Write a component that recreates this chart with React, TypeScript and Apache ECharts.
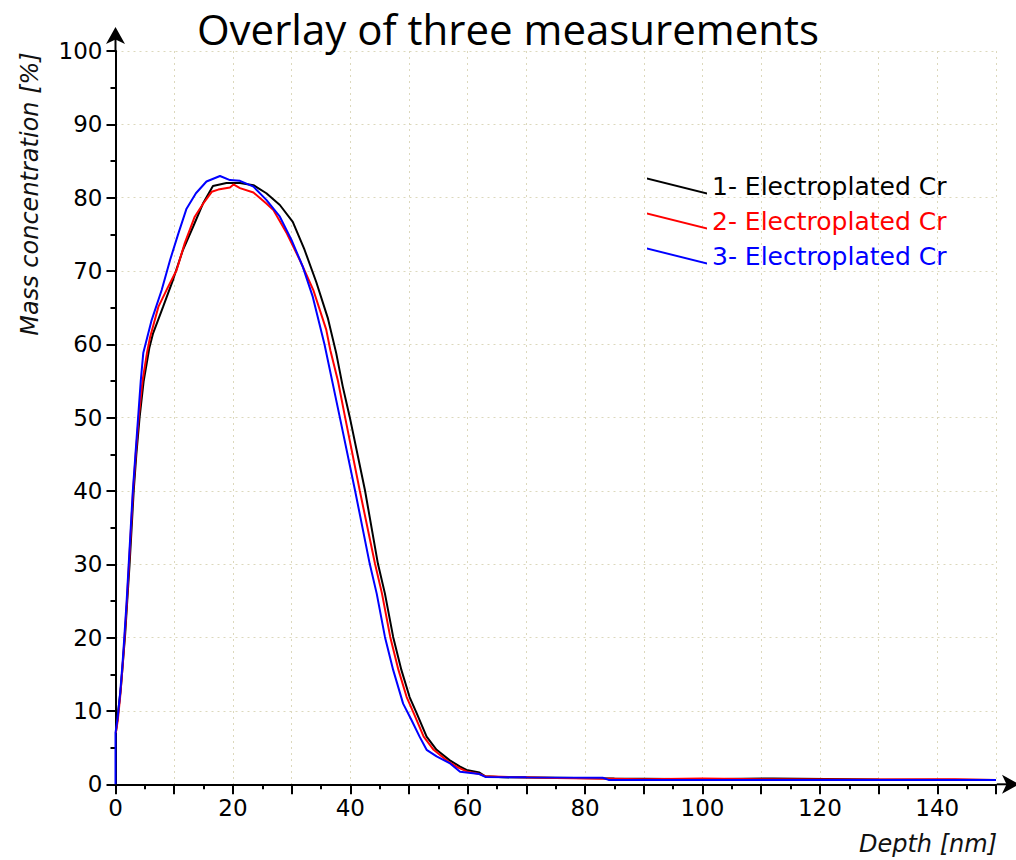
import React, { useEffect, useRef } from 'react';
import * as echarts from 'echarts';

const titleText = 'Overlay of three measurements';
const xAxisName = 'Depth [nm]';
const yAxisName = 'Mass concentration [%]';
const seriesNames = ['1- Electroplated Cr', '2- Electroplated Cr', '3- Electroplated Cr'];
const seriesColors = ['#000000', '#ff0000', '#0000ff'];

// [depth nm, mass concentration %]
const measurement1: number[][] = [
  [0.1, 7.3], [0.45, 9.8], [0.9, 13], [1.3, 17], [1.65, 20.5], [2.0, 25], [2.4, 30], [2.75, 35],
  [3.1, 40], [3.55, 45], [4.1, 50], [4.8, 55], [5.76, 59.5], [6.4, 61.5], [8.1, 65.1], [9.8, 68.8],
  [11.5, 72.9], [13.2, 76], [14.9, 79.2], [16.6, 81.6], [18.9, 82], [21.2, 82], [23.5, 81.7],
  [25.7, 80.6], [28, 79], [30.2, 76.7], [32.2, 72.9], [34.2, 68.5], [36.2, 63.5], [37.6, 58.8],
  [38.7, 54.3], [39.9, 50.1], [42.5, 40.1], [44.7, 30.1], [45.9, 26], [47.3, 20.1], [48.7, 15.6],
  [50.1, 11.9], [51.3, 9.7], [53, 6.5], [54.7, 4.7], [56.9, 3.3], [58.7, 2.4], [59.8, 1.95],
  [62, 1.6], [63, 1.1], [66, 0.95], [75, 0.9], [85, 0.8], [100, 0.7], [112, 0.8], [130, 0.65],
  [150, 0.6],
];

const measurement2: number[][] = [
  [0.05, 7], [0.4, 8.8], [0.8, 12], [1.2, 16], [1.55, 20], [1.95, 25], [2.3, 30], [2.65, 35],
  [3.0, 40], [3.45, 45], [3.95, 50], [4.6, 55], [5.4, 59], [5.9, 61], [7.3, 65.1], [9.0, 67.9],
  [10.4, 70.1], [11.8, 73.8], [13.5, 77.4], [14.95, 79.2], [16.4, 80.8], [17.5, 81.1], [19.5, 81.4],
  [20.1, 81.8], [21.2, 81.3], [23.5, 80.7], [25.7, 79.2], [26.9, 78.3], [29.2, 75.1], [31.4, 71.5],
  [33.7, 67.4], [35.9, 62], [36.6, 59.2], [37.9, 55], [39.1, 50.1], [41.6, 40.1], [44.2, 30.1],
  [45.4, 26], [46.8, 20.1], [48.2, 15.6], [49.6, 11.9], [50.8, 9.7], [52.5, 6.5], [54.2, 4.7],
  [56.5, 3.2], [58.3, 2.3], [60, 1.7], [62, 1.4], [63, 1.1], [67, 1.0], [75, 0.85], [90, 0.7],
  [100, 0.8], [110, 0.7], [125, 0.65], [143, 0.7], [150, 0.6],
];

const measurement3: number[][] = [
  [0, 0], [0, 7], [0.35, 9], [0.8, 12.5], [1.2, 16.5], [1.5, 20], [1.9, 25], [2.25, 30], [2.6, 35],
  [2.95, 40], [3.4, 45], [3.85, 50], [4.3, 55], [4.73, 58.8], [6.16, 63.3], [7.87, 67.4], [9.3, 71.5],
  [10.7, 75.1], [12.1, 78.5], [13.7, 80.6], [15.5, 82.2], [17.8, 82.95], [19.5, 82.4], [21.2, 82.3],
  [23.5, 81.5], [25.7, 79.7], [28, 77.4], [30, 74.2], [31.9, 70.6], [33.6, 66.5], [35.6, 60],
  [38.2, 50.1], [40.8, 40.1], [43.3, 30.1], [44.5, 26], [45.9, 20.1], [47.3, 15.6], [49, 11],
  [50.4, 8.8], [51.8, 6.5], [53, 4.7], [54.7, 3.8], [56.9, 2.9], [58.7, 1.7], [62, 1.4], [63, 1.0],
  [70, 0.95], [83, 0.9], [84, 0.6], [150, 0.6],
];

const allSeries = [measurement1, measurement2, measurement3];

const LABEL_FONT = 'DejaVu Sans';

export default function App() {
  const ref = useRef<HTMLDivElement>(null);

  useEffect(() => {
    if (!ref.current) return;
    const chart = echarts.init(ref.current, undefined, { renderer: 'svg' });
    const gridLeft = 115.5;
    const gridTop = 51;
    const gridRight = 20;
    const gridBottom = 75.7;
    const W = 1016;
    const H = 860;
    const axisY = H - gridBottom;
    const axisXEnd = W - gridRight;

    const option: any = {
      animation: false,
      backgroundColor: '#ffffff',
      title: {
        text: titleText,
        left: 'center',
        top: 2,
        textStyle: { fontFamily: 'Open Sans', fontSize: 42, fontWeight: 'normal', color: '#000' },
      },
      grid: { left: gridLeft, right: gridRight, top: gridTop, bottom: gridBottom, containLabel: false },
      legend: {
        orient: 'vertical',
        left: 647,
        top: 173.5,
        padding: 0,
        itemWidth: 60,
        itemHeight: 17,
        itemGap: 10,
        selectedMode: false,
        icon: 'path://M0,0 L60,15 L60,17 L0,2 Z',
        data: seriesNames.map((n, i) => ({ name: n, textStyle: { color: seriesColors[i] } })),
        textStyle: { fontSize: 25, fontFamily: LABEL_FONT },
      },
      xAxis: {
        type: 'value',
        min: 0,
        max: 150,
        interval: 10,
        axisLine: { show: true, onZero: false, lineStyle: { color: '#000', width: 2 } },
        axisTick: { show: true, length: 10, lineStyle: { color: '#000', width: 2 } },
        minorTick: { show: true, splitNumber: 2, length: 5, lineStyle: { color: '#000', width: 2 } },
        axisLabel: {
          formatter: (v: number) => (v % 20 === 0 ? String(v) : ''),
          fontSize: 23,
          fontFamily: LABEL_FONT,
          color: '#000',
          margin: 12,
          showMaxLabel: true,
        },
        splitLine: { show: true, lineStyle: { color: '#dcd8bc', type: [2, 4], width: 1 } },
      },
      yAxis: {
        type: 'value',
        min: 0,
        max: 100,
        interval: 10,
        axisLine: { show: true, lineStyle: { color: '#000', width: 2 } },
        axisTick: { show: true, length: 9, lineStyle: { color: '#000', width: 2 } },
        minorTick: { show: true, splitNumber: 2, length: 5, lineStyle: { color: '#000', width: 2 } },
        axisLabel: { fontSize: 23, fontFamily: LABEL_FONT, color: '#000', margin: 13 },
        splitLine: { show: true, lineStyle: { color: '#dcd8bc', type: [2, 4], width: 1 } },
      },
      series: allSeries.map((d, i) => ({
        name: seriesNames[i],
        type: 'line',
        data: d,
        showSymbol: false,
        symbol: 'none',
        color: seriesColors[i],
        lineStyle: { color: seriesColors[i], width: 2 },
        z: 2 + i,
      })),
      graphic: [
        {
          type: 'line',
          shape: { x1: gridLeft, y1: gridTop, x2: gridLeft, y2: 36 },
          style: { stroke: '#000', lineWidth: 2 },
        },
        {
          type: 'polygon',
          shape: { points: [[gridLeft, 27], [gridLeft + 9.5, 44], [gridLeft, 39.5], [gridLeft - 9.5, 44]] },
          style: { fill: '#000' },
        },
        {
          type: 'line',
          shape: { x1: axisXEnd, y1: axisY, x2: 1008, y2: axisY },
          style: { stroke: '#000', lineWidth: 2 },
        },
        {
          type: 'polygon',
          shape: { points: [[1019, axisY], [1002, axisY - 9.5], [1006.5, axisY], [1002, axisY + 9.5]] },
          style: { fill: '#000' },
        },
        {
          type: 'text',
          x: 997,
          y: 844,
          style: {
            text: xAxisName,
            fontFamily: LABEL_FONT,
            fontStyle: 'italic',
            fontSize: 24,
            fill: '#111',
            textAlign: 'right',
            textVerticalAlign: 'middle',
          },
        },
        {
          type: 'text',
          x: 30,
          y: 194,
          rotation: Math.PI / 2,
          style: {
            text: yAxisName,
            fontFamily: LABEL_FONT,
            fontStyle: 'italic',
            fontSize: 24,
            fill: '#111',
            textAlign: 'center',
            textVerticalAlign: 'middle',
          },
        },
      ],
    };
    chart.setOption(option);
    return () => chart.dispose();
  }, []);

  return (
    <div
      ref={ref}
      style={{ position: 'fixed', left: 0, top: 0, width: 1016, height: 860, background: '#fff' }}
    />
  );
}
